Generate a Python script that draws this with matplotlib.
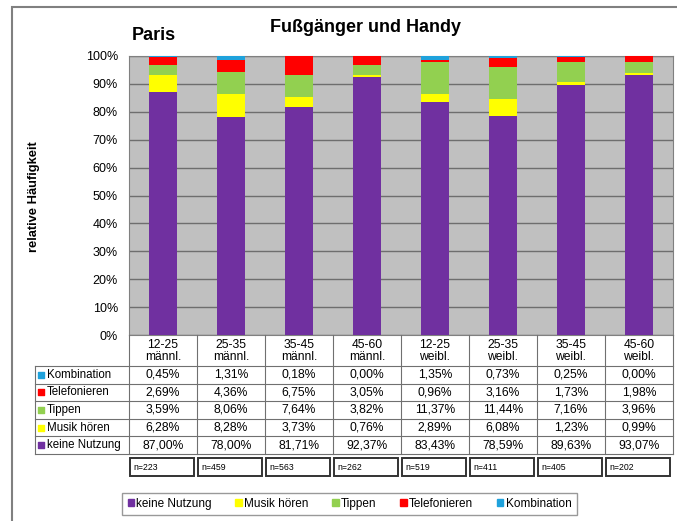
import matplotlib.pyplot as plt
import matplotlib.patches as mpatches
import numpy as np

plt.rcParams['font.family'] = ['Liberation Sans', 'DejaVu Sans']

# Daten
groups = ["12-25\nmännl.", "25-35\nmännl.", "35-45\nmännl.", "45-60\nmännl.",
          "12-25\nweibl.", "25-35\nweibl.", "35-45\nweibl.", "45-60\nweibl."]
keine_nutzung = [87.00, 78.00, 81.71, 92.37, 83.43, 78.59, 89.63, 93.07]
musik_hoeren = [6.28, 8.28, 3.73, 0.76, 2.89, 6.08, 1.23, 0.99]
tippen = [3.59, 8.06, 7.64, 3.82, 11.37, 11.44, 7.16, 3.96]
telefonieren = [2.69, 4.36, 6.75, 3.05, 0.96, 3.16, 1.73, 1.98]
kombination = [0.45, 1.31, 0.18, 0.00, 1.35, 0.73, 0.25, 0.00]
n_values = [223, 459, 563, 262, 519, 411, 405, 202]

series = [
    ("keine Nutzung", keine_nutzung, "#7030a0"),
    ("Musik hören", musik_hoeren, "#ffff00"),
    ("Tippen", tippen, "#92d050"),
    ("Telefonieren", telefonieren, "#ff0000"),
    ("Kombination", kombination, "#1fa2dc"),
]

W, H = 677, 521


def fx(px):
    return px / W


def fy(py):
    return 1 - py / H


fig = plt.figure(figsize=(W / 100, H / 100), dpi=100)

# Rahmen um das ganze Diagramm
fig.patches.append(mpatches.Rectangle((fx(12), -0.1), 1.2, fy(7) + 0.1,
                                      transform=fig.transFigure, fill=False,
                                      edgecolor="#808080", lw=1.5))

ax = fig.add_axes([fx(129), fy(335), fx(673) - fx(129), (335 - 56) / H])
ax.set_facecolor("#c0c0c0")
x = np.arange(len(groups))
bottom = np.zeros(len(groups))
for name, vals, color in series:
    v = np.array(vals) / 100
    ax.bar(x, v, width=0.4, bottom=bottom, color=color, zorder=3)
    bottom += v

ax.set_xlim(-0.5, len(groups) - 0.5)
ax.set_ylim(0, 1)
ax.set_yticks(np.arange(0, 1.01, 0.1))
ax.set_yticklabels([f"{int(round(t * 100))}%" for t in np.arange(0, 1.01, 0.1)], fontsize=9)
ax.tick_params(axis="y", length=0, pad=8)
ax.set_xticks([])
ax.yaxis.grid(True, color="#6e6e6e", lw=1, zorder=1)
for s in ax.spines.values():
    s.set_color("#808080")

fig.text(fx(34), fy(197), "relative Häufigkeit", rotation=90, fontsize=9.3,
         fontweight="bold", ha="center", va="center")
fig.text(fx(365), fy(27), "Fußgänger und Handy", fontsize=13, fontweight="bold",
         ha="center", va="center")
fig.text(fx(132), fy(35), "Paris", fontsize=13, fontweight="bold",
         ha="left", va="center")

# Datentabelle
colw = 68
labw = (129 - 35) / colw
tab = fig.add_axes([fx(35), fy(476), fx(673) - fx(35), (476 - 335) / H])
tab.set_xlim(-0.5 - labw, len(groups) - 0.5)
tab.set_ylim(476, 335)
tab.axis("off")

line_c = "#707070"
head_bot = 366
rh = (454 - head_bot) / 5
xl, xr = -0.5 - labw, len(groups) - 0.5

for i, g in enumerate(groups):
    tab.text(i, (335 + head_bot) / 2 + 1, g, ha="center", va="center", fontsize=8.7,
             linespacing=1.0)
for k in range(len(groups) + 1):
    tab.plot([k - 0.5, k - 0.5], [335, 454], color=line_c, lw=0.8, clip_on=False)
tab.plot([xl, xl], [head_bot, 454], color=line_c, lw=0.8, clip_on=False)
for r in range(6):
    yy = head_bot + r * rh
    tab.plot([xl, xr], [yy, yy], color=line_c, lw=0.8, clip_on=False)

for r, (name, vals, color) in enumerate(reversed(series)):
    yc = head_bot + (r + 0.5) * rh
    tab.scatter([xl + 0.09], [yc], marker="s", s=16, color=color, clip_on=False)
    tab.text(xl + 0.17, yc, name, ha="left", va="center", fontsize=8.3)
    for i, v in enumerate(vals):
        tab.text(i, yc, f"{v:.2f}%".replace(".", ","), ha="center", va="center",
                 fontsize=8.7)

for i, n in enumerate(n_values):
    tab.add_patch(mpatches.Rectangle((i - 0.5 + 0.02, 458), 0.94, 18, fill=False,
                                     edgecolor="#333333", lw=1.4, clip_on=False))
    tab.text(i - 0.5 + 0.07, 467, f"n={n}", ha="left", va="center", fontsize=6.3)

handles = [mpatches.Patch(color=c, label=nm) for nm, _, c in series]
leg = fig.legend(handles=handles, loc="center", bbox_to_anchor=(fx(349.5), fy(504)),
                 ncol=5, fontsize=8.5, frameon=True, fancybox=False,
                 handlelength=0.55, handleheight=0.55, handletextpad=0.2,
                 columnspacing=2.0, borderpad=0.45)
leg.get_frame().set_edgecolor("#808080")
leg.get_frame().set_linewidth(1.0)

fig.savefig("out.png", dpi=100)
